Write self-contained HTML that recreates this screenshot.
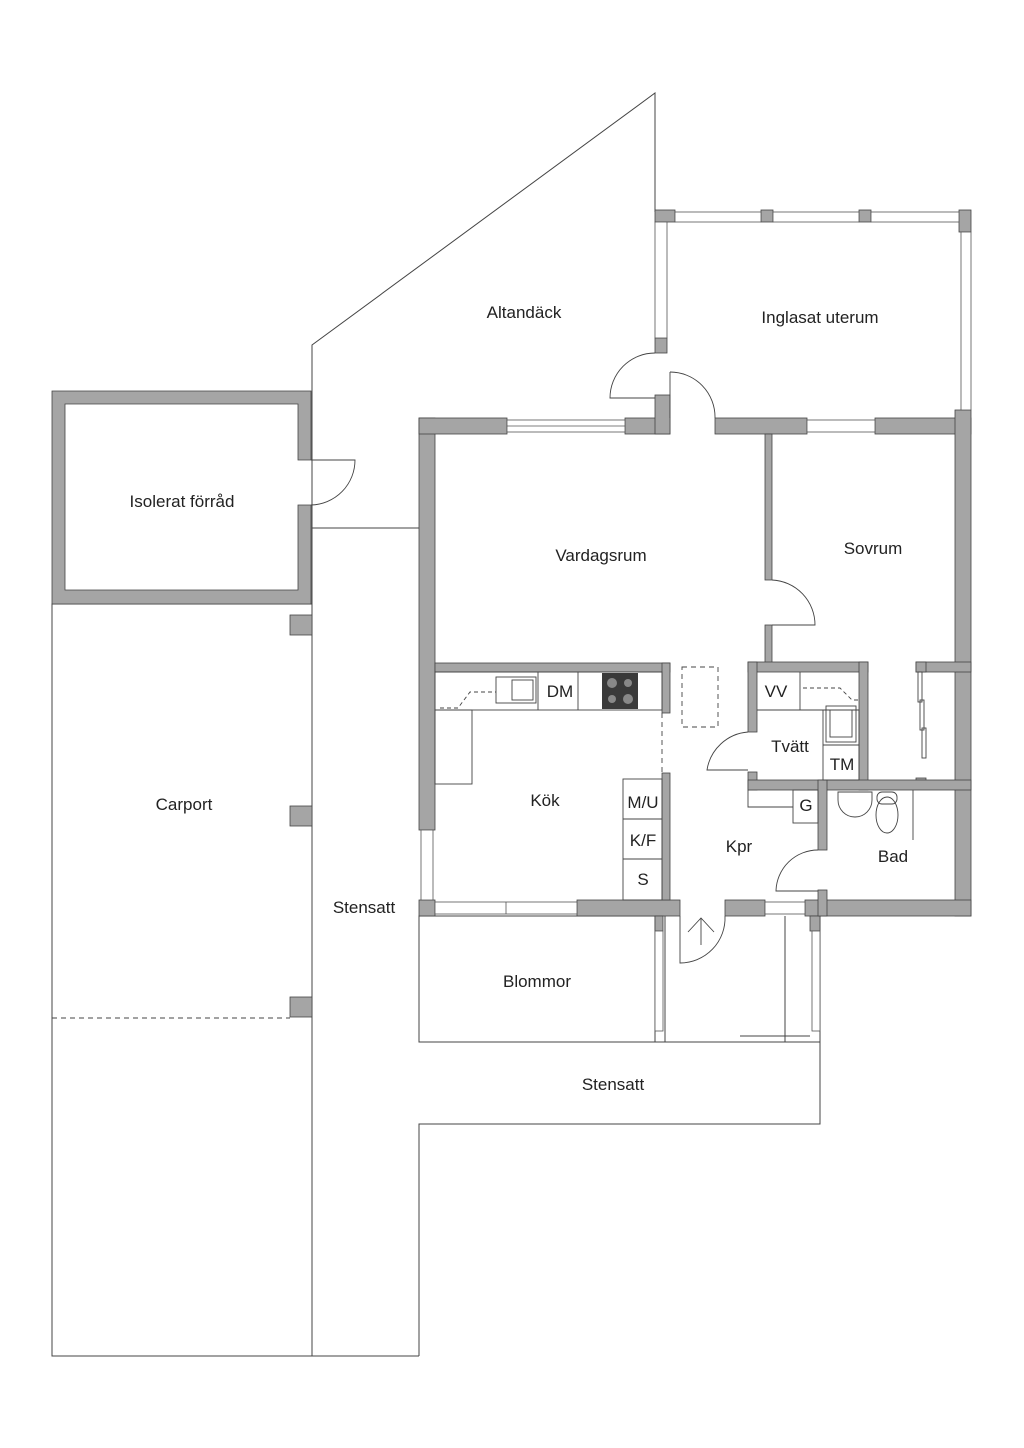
<!DOCTYPE html>
<html><head><meta charset="utf-8"><style>
html,body{margin:0;padding:0;background:#fff}
svg{display:block}
text{font-family:"Liberation Sans",sans-serif;fill:#222}
</style></head><body>
<svg width="1024" height="1448" viewBox="0 0 1024 1448" xmlns="http://www.w3.org/2000/svg">
<g fill="none" stroke="#444" stroke-width="1">
<!-- site lines -->
<polyline points="312,1356 312,345 655,93 655,212"/>
<line x1="312" y1="528" x2="419" y2="528"/>
<rect x="52" y="604" width="260" height="752"/>
<line x1="52" y1="1356" x2="419" y2="1356"/>
<polyline points="419,1356 419,1124 820,1124 820,916"/>
<rect x="419" y="916" width="236" height="126"/>
<line x1="655" y1="1042" x2="820" y2="1042"/>
<line x1="52" y1="1018" x2="290" y2="1018" stroke-dasharray="5,4"/>
<line x1="665" y1="916" x2="665" y2="1042"/>
<line x1="785" y1="916" x2="785" y2="1042"/>
<line x1="740" y1="1036" x2="810" y2="1036"/>
</g>
<g fill="#a5a5a5" stroke="#444" stroke-width="0.8">
<!-- storage -->
<path fill-rule="evenodd" d="M52,391H311V460H298V404H65V590H298V505H311V604H52Z"/>
<rect x="290" y="615" width="22" height="20"/><rect x="290" y="806" width="22" height="20"/><rect x="290" y="997" width="22" height="20"/>
<!-- outer walls main -->
<rect x="419" y="418" width="16" height="412"/>
<rect x="419" y="900" width="16" height="16"/>
<rect x="419" y="418" width="88" height="16"/>
<rect x="625" y="418" width="45" height="16"/>
<rect x="655" y="395" width="15" height="39"/>
<rect x="715" y="418" width="92" height="16"/>
<rect x="875" y="418" width="96" height="16"/>
<rect x="955" y="410" width="16" height="506"/>
<rect x="577" y="900" width="103" height="16"/>
<rect x="725" y="900" width="40" height="16"/>
<rect x="805" y="900" width="166" height="16"/>
<rect x="655" y="916" width="8" height="15"/><rect x="810" y="916" width="10" height="15"/>
<!-- uterum -->
<rect x="655" y="210" width="20" height="12"/><rect x="761" y="210" width="12" height="12"/><rect x="859" y="210" width="12" height="12"/><rect x="959" y="210" width="12" height="22"/>
<rect x="655" y="338" width="12" height="15"/>
<!-- interior -->
<rect x="765" y="434" width="7" height="146"/>
<rect x="765" y="625" width="7" height="40"/>
<rect x="435" y="663" width="235" height="9"/>
<rect x="662" y="663" width="8" height="50"/>
<rect x="662" y="773" width="8" height="127"/>
<rect x="748" y="662" width="120" height="10"/>
<rect x="748" y="662" width="9" height="70"/>
<rect x="748" y="772" width="9" height="18"/>
<rect x="859" y="662" width="9" height="128"/>
<rect x="916" y="662" width="55" height="10"/>
<rect x="916" y="662" width="10" height="10"/>
<rect x="916" y="778" width="10" height="10"/>
<rect x="748" y="780" width="223" height="10"/>
<rect x="818" y="780" width="9" height="70"/>
<rect x="818" y="890" width="9" height="26"/>
</g>
<!-- windows -->
<g fill="#fff" stroke="#555" stroke-width="0.8">
<rect x="507" y="420" width="118" height="12"/><line x1="507" y1="426" x2="625" y2="426"/>
<rect x="807" y="420" width="68" height="12"/>
<rect x="675" y="212" width="86" height="10"/><rect x="773" y="212" width="86" height="10"/><rect x="871" y="212" width="88" height="10"/>
<rect x="655" y="222" width="12" height="116"/>
<rect x="961" y="232" width="10" height="178"/>
<rect x="435" y="902" width="142" height="12"/><line x1="506" y1="902" x2="506" y2="914"/>
<rect x="765" y="902" width="40" height="12"/>
<rect x="421" y="830" width="12" height="70"/>
<rect x="655" y="931" width="8" height="100"/><rect x="812" y="931" width="8" height="100"/>
</g>
<!-- doors -->
<g fill="none" stroke="#444" stroke-width="0.9">
<path d="M655,353 A45,45 0 0 0 610,398 H655"/>
<path d="M670,372 A45,45 0 0 1 715,418"/><line x1="670" y1="372" x2="670" y2="418"/>
<path d="M311,460 H355 A45,45 0 0 1 311,505"/>
<path d="M772,580 A45,45 0 0 1 815,625 H772"/>
<path d="M748,732 A45,45 0 0 0 707,770 H748"/>
<path d="M818,850 A42,42 0 0 0 776,891 H818"/>
<path d="M680,916 V963 A45,45 0 0 0 725,916"/>
<polyline points="688,932 701,918 714,932"/><line x1="701" y1="918" x2="701" y2="945"/>
<!-- kitchen -->
<rect x="435" y="672" width="227" height="38"/>
<line x1="538" y1="672" x2="538" y2="710"/><line x1="578" y1="672" x2="578" y2="710"/>
<rect x="435" y="710" width="37" height="74"/>
<polyline points="440,708 458,708 470,692 496,692" stroke-dasharray="4,3"/>
<rect x="496" y="677" width="40" height="26"/><rect x="512" y="680" width="21" height="20"/>
<rect x="623" y="779" width="39" height="121"/><line x1="623" y1="819" x2="662" y2="819"/><line x1="623" y1="859" x2="662" y2="859"/>
<line x1="662" y1="713" x2="662" y2="773" stroke-dasharray="5,4"/>
<rect x="682" y="667" width="36" height="60" stroke-dasharray="5,4"/>
<!-- tvatt -->
<line x1="757" y1="710" x2="859" y2="710"/><line x1="800" y1="672" x2="800" y2="710"/>
<rect x="823" y="710" width="36" height="70"/><line x1="823" y1="745" x2="859" y2="745"/>
<rect x="826" y="706" width="30" height="36"/><rect x="830" y="710" width="22" height="27"/>
<polyline points="803,688 840,688 852,700 859,700" stroke-dasharray="4,3"/>
<!-- G -->
<polyline points="748,790 748,807 793,807"/><rect x="793" y="790" width="25" height="33"/>
<!-- bad -->
<path d="M838,792 v8 a17,17 0 1 0 34,0 v-8z"/>
<ellipse cx="887" cy="815" rx="11" ry="18"/><rect x="877" y="792" width="20" height="12" rx="5"/>
<line x1="913" y1="790" x2="913" y2="840"/>
<!-- sovrum closet -->
<rect x="918" y="672" width="4" height="30"/><rect x="920" y="700" width="4" height="30"/><rect x="922" y="728" width="4" height="30"/>
</g>
<g fill="#3a3a3a"><rect x="602" y="673" width="36" height="36"/></g>
<g fill="#888"><circle cx="612" cy="683" r="5"/><circle cx="628" cy="683" r="4"/><circle cx="612" cy="699" r="4"/><circle cx="628" cy="699" r="5"/></g>
<g font-size="17" text-anchor="middle">
<text x="524" y="318">Altandäck</text>
<text x="820" y="323">Inglasat uterum</text>
<text x="182" y="507">Isolerat förråd</text>
<text x="601" y="561">Vardagsrum</text>
<text x="873" y="554">Sovrum</text>
<text x="184" y="810">Carport</text>
<text x="545" y="806">Kök</text>
<text x="739" y="852">Kpr</text>
<text x="893" y="862">Bad</text>
<text x="790" y="752">Tvätt</text>
<text x="364" y="913">Stensatt</text>
<text x="537" y="987">Blommor</text>
<text x="613" y="1090">Stensatt</text>
<text x="560" y="697">DM</text>
<text x="776" y="697">VV</text>
<text x="842" y="770">TM</text>
<text x="806" y="811">G</text>
<text x="643" y="808">M/U</text>
<text x="643" y="846">K/F</text>
<text x="643" y="885">S</text>
</g>
</svg>
</body></html>
